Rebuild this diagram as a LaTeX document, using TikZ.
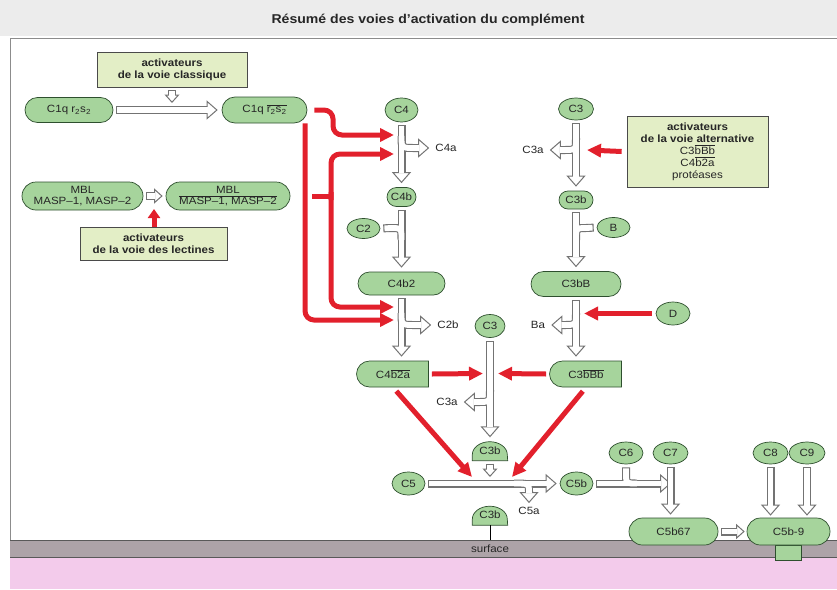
\documentclass[tikz,border=0pt]{standalone}
\usepackage{fontspec}
\setmainfont{Liberation Sans}[FakeStretch=1.1]
\usetikzlibrary{shapes.geometric,shapes.misc,arrows.meta}
\pgfdeclarelayer{bg}
\pgfsetlayers{bg,main}
\definecolor{nfill}{HTML}{A6D49C}
\definecolor{ndraw}{HTML}{2E4F2E}
\definecolor{bfill}{HTML}{E3EEC6}
\definecolor{bdraw}{HTML}{4A4A4A}
\definecolor{hgray}{HTML}{737373}
\definecolor{rred}{HTML}{E2202C}
\definecolor{memb}{HTML}{ADA3A8}
\definecolor{pinkc}{HTML}{F3CBEB}
\definecolor{topband}{HTML}{ECECEC}
\newcommand\ovl[1]{$\overline{\mbox{#1}}$}
\newcommand\hollowset{%
  \path[hpa] (C1q.east) -- (C1qb.west);
  \path[hpas] (actc.south) -- (hsh);
  \path[hpas=3pt] (MBL.east) -- (MBLb.west);
  \path[hpa] (C4.south) -- (C4.south |- C4b.north);
  \path[hba] (401.5,136) .. controls (401.5,148) .. (413,148) -- (lC4a.west);
  \path[hp] (C2.east) -- (391,228) .. controls (401.5,228) .. (401.5,240);
  \path[hpa] (C4b.south) -- (C4b.south |- C4b2.north);
  \path[hba] (401.5,313) .. controls (401.5,325) .. (413,325) -- (lC2b.west);
  \path[hpa] (C4b2.south) -- (C4b2.south |- C4b2a.north);
  \path[hpa] (C3.south) -- (C3.south |- C3b.north);
  \path[hba] (576,138) .. controls (576,150) .. (565,150) -- (lC3a.east);
  \path[hp] (B.west) -- (586,228) .. controls (576,228) .. (576,240);
  \path[hpa] (C3b.south) -- (C3b.south |- C3bB.north);
  \path[hba] (576,313) .. controls (576,325) .. (565,325) -- (lBa.east);
  \path[hpa] (C3bB.south) -- (C3bB.south |- C3bBb.north);
  \path[hpa] (C3m.south) -- (C3m.south |- C3bm.north);
  \path[hba] (490,390) .. controls (490,402) .. (479,402) -- (lC3am.east);
  \path[hpas] (C3bm.south) -- (hsh2);
  \path[hpa=3pt] (C5.east) -- (C5b.west);
  \path[hba=2pt] (514,483.5) .. controls (529,483.5) .. (529,492) -- (lC5a.north);
  \path[hpa=0pt] (C5b.east) -- (c7in);
  \path[hp] (C6.south) -- (626,474) .. controls (626,483.5) .. (637,483.5);
  \path[hpa=3pt] (C7.south) -- (C7.south |- C5b67.north);
  \path[hpas=2pt] (C5b67.east) -- (C5b9.west);
  \path[hpa=2pt] (C8.south) -- (C8.south |- C5b9.north);
  \path[hpa=2pt] (C9.south) -- (C9.south |- C5b9.north);
}
\begin{document}
\begin{tikzpicture}[x=1pt,y=-1pt,
  every node/.style={font=\fontsize{10.5}{12}\selectfont, text=black!85},
  gnode/.style={fill=nfill, draw=ndraw, line width=0.7pt},
  pill/.style={gnode, rounded rectangle, inner sep=0pt},
  ell/.style={gnode, ellipse, inner sep=0pt},
  half/.style={gnode, rounded rectangle, rounded rectangle right arc=none, inner sep=0pt, minimum width=72pt, minimum height=26pt},
  dome/.style={inner sep=0pt, minimum width=35pt, minimum height=19pt},
  abox/.style={fill=bfill, draw=bdraw, line width=0.7pt, align=center, inner sep=2pt, font=\fontsize{10.5}{12}\selectfont\bfseries},
  lbl/.style={inner sep=2pt},
  ra/.style={draw=rred, line width=5pt, rounded corners=9pt, -{Triangle[length=14pt,width=13pt]}},
]
\useasboundingbox (0,0) rectangle (837,589);
\begin{pgfonlayer}{bg}
\fill[topband] (0,0) rectangle (837,36);
\fill[memb] (10,540) rectangle (837,557);
\fill[pinkc] (10,557) rectangle (837,589);
\draw[black!65, line width=0.9pt] (10,540) -- (837,540) (10,557) -- (837,557);
\draw[black!45, line width=1pt] (837,38.5) -- (10.5,38.5) -- (10.5,540);
\end{pgfonlayer}

\node[font=\fontsize{12.8}{14}\selectfont\bfseries] (title) at (428,20) {Résumé des voies d’activation du complément};

% left part
\node[abox, minimum width=150pt, minimum height=35pt] (actc) at (172,69.5) {activateurs\\de la voie classique};
\node[pill, minimum width=88pt, minimum height=25pt] (C1q) at (69,110) {C1q r\textsubscript{2}s\textsubscript{2}};
\node[pill, minimum width=85pt, minimum height=26pt] (C1qb) at (264.5,110) {C1q \ovl{r\textsubscript{2}s\textsubscript{2}}};
\node[pill, minimum width=121pt, minimum height=28pt, align=center] (MBL) at (82.5,196) {MBL\\[-1pt]MASP–1, MASP–2};
\node[pill, minimum width=124pt, minimum height=28pt, align=center] (MBLb) at (228,196) {MBL\\[-1pt]\ovl{MASP–1, MASP–2}};
\node[abox, minimum width=147pt, minimum height=33pt] (actl) at (153.5,243.5) {activateurs\\de la voie des lectines};
\coordinate (hsh) at (172,106);
\coordinate (lec) at (154,209);

% classical column
\node[ell, minimum width=33pt, minimum height=24pt] (C4) at (401.5,110) {C4};
\node[lbl] (lC4a) at (446,148) {C4a};
\node[pill, minimum width=29pt, minimum height=19pt] (C4b) at (401.5,197) {C4b};
\node[ell, minimum width=33pt, minimum height=20pt] (C2) at (363.5,228.5) {C2};
\node[pill, minimum width=87pt, minimum height=23pt] (C4b2) at (401.5,283.5) {C4b2};
\node[lbl] (lC2b) at (448,325) {C2b};
\node[half] (C4b2a) at (393,374) {C4\ovl{b2a}};

% alternative column
\node[ell, minimum width=35pt, minimum height=22pt] (C3) at (576,109) {C3};
\node[lbl] (lC3a) at (533,150) {C3a};
\node[abox, minimum width=141pt, minimum height=71pt] (alt) at (697.5,151.5) {activateurs\\de la voie alternative\\\textmd{C3\ovl{bBb}}\\\textmd{C4\ovl{b2a}}\\\textmd{protéases}};
\node[pill, minimum width=34pt, minimum height=18pt] (C3b) at (576,200) {C3b};
\node[ell, minimum width=33pt, minimum height=20pt] (B) at (613.5,227.5) {B};
\node[pill, minimum width=90pt, minimum height=25pt] (C3bB) at (576,284) {C3bB};
\node[ell, minimum width=34pt, minimum height=23pt] (D) at (673,313.5) {D};
\node[lbl] (lBa) at (538,325) {Ba};
\node[half] (C3bBb) at (586,374) {C3\ovl{bBb}};

% middle column
\node[ell, minimum width=30pt, minimum height=23pt] (C3m) at (490,326) {C3};
\node[lbl] (lC3am) at (447,402) {C3a};
\node[dome] (C3bm) at (490,451) {C3b};
\coordinate (hsh2) at (490,480);

% terminal pathway
\node[ell, minimum width=33pt, minimum height=23pt] (C5) at (408.5,483.5) {C5};
\node[ell, minimum width=33pt, minimum height=23pt] (C5b) at (576.5,483.5) {C5b};
\node[lbl] (lC5a) at (529,511) {C5a};
\node[ell, minimum width=34pt, minimum height=22pt] (C6) at (626,453) {C6};
\node[ell, minimum width=35pt, minimum height=22pt] (C7) at (670.5,453) {C7};
\node[ell, minimum width=35pt, minimum height=22pt] (C8) at (770.5,453) {C8};
\node[ell, minimum width=36pt, minimum height=22pt] (C9) at (807,453) {C9};
\coordinate (c7in) at (671,483.5);
\node[pill, minimum width=89pt, minimum height=27pt] (C5b67) at (673.5,531.5) {C5b67};
\node[pill, minimum width=83pt, minimum height=27pt] (C5b9) at (788.5,531.5) {C5b-9};
\node[dome, minimum height=20pt] (C3bs) at (490,515) {C3b};
\node[font=\fontsize{10.5}{12}\selectfont] (surf) at (490,548.5) {surface};
\coordinate (memtop) at (0,540);

% domes and stem
\begin{pgfonlayer}{bg}
\foreach \n in {C3bm,C3bs}{
  \filldraw[gnode] (\n.south west) -- ([yshift=6pt]\n.south west)
     arc[start angle=180, end angle=0, x radius=17.5pt, y radius=13pt]
     -- (\n.south east) -- cycle;
}
\filldraw[gnode] ([xshift=-13pt]C5b9.south) rectangle ([xshift=13pt,yshift=-15pt]C5b9.south);
\end{pgfonlayer}
\draw[black, line width=1pt] (C3bs.south) -- (C3bs.south |- memtop);

% hollow arrows: outer pass
\begin{scope}[
  hp/.style={draw=hgray, line width=8pt, shorten <=#1}, hp/.default=3pt,
  hb/.style={draw=hgray, line width=8pt},
  hpa/.style={hp, -{Triangle[length=11pt,width=19pt,fill=white,line width=1pt]}, shorten >=#1}, hpa/.default=4pt,
  hba/.style={hb, -{Triangle[length=11pt,width=19pt,fill=white,line width=1pt]}, shorten >=#1}, hba/.default=4pt,
  hpas/.style={hp, -{Triangle[length=8.5pt,width=15pt,fill=white,line width=1pt]}, shorten >=#1}, hpas/.default=3pt]
\hollowset
\end{scope}
% hollow arrows: inner pass
\begin{scope}[
  hp/.style={draw=white, line width=5.8pt, shorten <=#1+1.1pt}, hp/.default=3pt,
  hb/.style={draw=white, line width=5.8pt},
  hpa/.style={hp, shorten >=#1+10pt}, hpa/.default=4pt,
  hba/.style={hb, shorten >=#1+10pt}, hba/.default=4pt,
  hpas/.style={hp, shorten >=#1+7.5pt}, hpas/.default=3pt]
\hollowset
\end{scope}

% red arrows
\coordinate (r1) at (394,135);
\coordinate (r2) at (394,154);
\coordinate (r3) at (394,307);
\coordinate (r4) at (394,320);
\coordinate (r5) at (587,150);
\coordinate (r6) at (584,313.5);
\coordinate (r7) at (483,373.5);
\coordinate (r8) at (498,373.5);
\coordinate (r9) at (472,477);
\coordinate (r10) at (512,477);
\draw[ra] ([xshift=7pt]C1qb.east) -- (333,110) -- (333,135) -- (r1);
\draw[ra] ([xshift=40.5pt]C1qb.south) |- (r4);
\draw[draw=rred, line width=5pt] ([xshift=22pt]MBLb.east) -- (333,196);
\draw[ra] (331,200) -- (331,154) -- (r2);
\draw[ra] (331,192) -- (331,307) -- (r3);
\draw[ra] ([xshift=-5pt]alt.west) -- (r5);
\draw[ra] ([xshift=-4pt]D.west) -- (r6);
\draw[ra] ([xshift=3pt]C4b2a.east) -- (r7);
\draw[ra] ([xshift=-3pt]C3bBb.west) -- (r8);
\draw[ra, shorten <=5pt] (C4b2a.south) -- (r9);
\draw[ra, shorten <=5pt] (C3bBb.south) -- (r10);
\draw[ra, -{Triangle[length=9pt,width=12pt]}] (actl.north -| lec) -- (lec);
\end{tikzpicture}
\end{document}
